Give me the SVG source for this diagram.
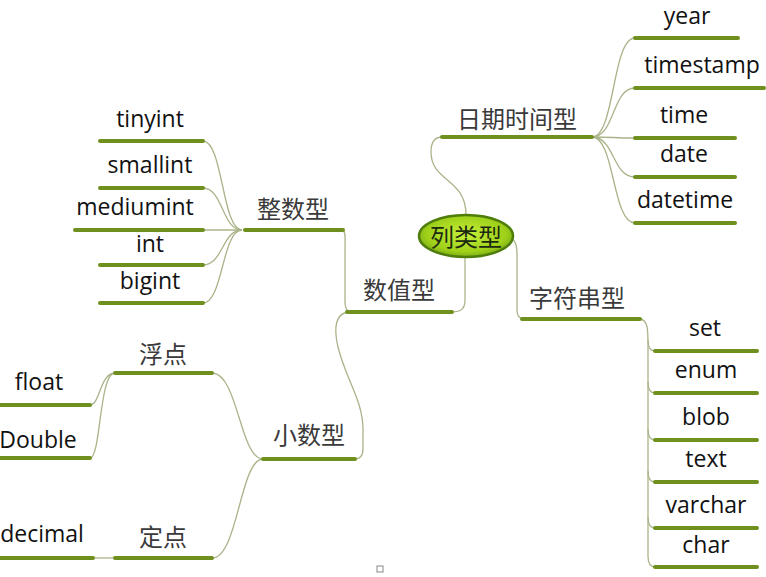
<svg xmlns="http://www.w3.org/2000/svg" width="766" height="577" viewBox="0 0 766 577">
<style>
.bar{stroke:#6f8f1f;stroke-width:4;stroke-linecap:round;fill:none}
.ln{stroke:#aab48a;stroke-width:1.3;fill:none}
.en{font-family:"Open Sans","DejaVu Sans",sans-serif;font-size:23px;fill:#111;text-anchor:middle}
.zh{font-family:"Noto Sans CJK SC",sans-serif;font-size:24px;fill:#3a3a3a;text-anchor:middle}
</style>
<defs>
<radialGradient id="rg" cx="50%" cy="45%" r="60%">
<stop offset="0" stop-color="#c6ef3a"/>
<stop offset="0.7" stop-color="#9fd11a"/>
<stop offset="1" stop-color="#6f9f14"/>
</radialGradient>
</defs>
<rect width="766" height="577" fill="#ffffff"/>
<g id="connectors">
<path class="ln" d="M466,215 C466,178 431,182 431,152 C431,141 435,137 442,137"/>
<path class="ln" d="M592,137 C615,137 612,38 635,38"/>
<path class="ln" d="M592,137 C615,137 612,88 635,88"/>
<path class="ln" d="M592,137 C615,137 612,138 635,138"/>
<path class="ln" d="M592,137 C615,137 612,177 635,177"/>
<path class="ln" d="M592,137 C615,137 612,223 635,223"/>
<path class="ln" d="M465,257 L465,300 C465,309 461,312 452,312"/>
<path class="ln" d="M343,230 C346,232 345,240 345,250 L345,300 C345,309 347,312 352,312"/>
<path class="ln" d="M347,312 C335,315 334,330 338,347 C346,380 363,400 363,430 L363,448 C363,456 360,459 355,459"/>
<path class="ln" d="M242,230 C222,230 223,141 203,141"/>
<path class="ln" d="M242,230 C222,230 223,188 203,188"/>
<path class="ln" d="M242,230 L203,230"/>
<path class="ln" d="M242,230 C222,230 223,265 203,265"/>
<path class="ln" d="M242,230 C222,230 223,303 203,303"/>
<path class="ln" d="M263,459 C240,459 238,373 212,373"/>
<path class="ln" d="M263,459 C240,459 238,558 212,558"/>
<path class="ln" d="M90,405 C100,405 100,373 115,373"/>
<path class="ln" d="M90,458 C101,458 99,373 115,373"/>
<path class="ln" d="M93,558 L115,558"/>
<path class="ln" d="M510,238 C516,240 517,246 517,256 L517,310 C517,316 519,319 524,319"/>
<path class="ln" d="M640,319 C648,320 648,330 648,345 L648,556 C648,563 650,567 655,567"/>
<path class="ln" d="M648,340 C648,347 650,351 655,351"/>
<path class="ln" d="M648,382 C648,389 650,393 655,393"/>
<path class="ln" d="M648,429 C648,436 650,440 655,440"/>
<path class="ln" d="M648,471 C648,478 650,482 655,482"/>
<path class="ln" d="M648,517 C648,524 650,528 655,528"/>
</g>
<g id="root">
<ellipse cx="466" cy="236" rx="47" ry="21" fill="url(#rg)" stroke="#4f7d0c" stroke-width="2.5"/>
<text x="466" y="246" font-family="Noto Sans CJK SC,sans-serif" font-size="24" fill="#1c2a10" text-anchor="middle">列类型</text>
</g>
<g id="n-datetime-type">
<line class="bar" x1="442" y1="137" x2="592" y2="137"/>
<text class="zh" x="517" y="128">日期时间型</text>
</g>
<g id="n-year"><line class="bar" x1="635" y1="38" x2="738" y2="38"/><text class="en" x="687" y="24">year</text></g>
<g id="n-timestamp"><line class="bar" x1="635" y1="88" x2="764" y2="88"/><text class="en" x="702" y="73">timestamp</text></g>
<g id="n-time"><line class="bar" x1="635" y1="138" x2="735" y2="138"/><text class="en" x="684" y="123">time</text></g>
<g id="n-date"><line class="bar" x1="635" y1="177" x2="735" y2="177"/><text class="en" x="684" y="162">date</text></g>
<g id="n-datetime"><line class="bar" x1="635" y1="223" x2="735" y2="223"/><text class="en" x="685" y="208">datetime</text></g>
<g id="n-numeric">
<line class="bar" x1="347" y1="312" x2="452" y2="312"/>
<text class="zh" x="399" y="299">数值型</text>
</g>
<g id="n-integer">
<line class="bar" x1="245" y1="230" x2="343" y2="230"/>
<text class="zh" x="293" y="218">整数型</text>
</g>
<g id="n-tinyint"><line class="bar" x1="100" y1="141" x2="203" y2="141"/><text class="en" x="150" y="127">tinyint</text></g>
<g id="n-smallint"><line class="bar" x1="100" y1="188" x2="203" y2="188"/><text class="en" x="150" y="173">smallint</text></g>
<g id="n-mediumint"><line class="bar" x1="75" y1="230" x2="203" y2="230"/><text class="en" x="135" y="215">mediumint</text></g>
<g id="n-int"><line class="bar" x1="100" y1="265" x2="203" y2="265"/><text class="en" x="150" y="252">int</text></g>
<g id="n-bigint"><line class="bar" x1="100" y1="303" x2="203" y2="303"/><text class="en" x="150" y="289">bigint</text></g>
<g id="n-decimal-type">
<line class="bar" x1="263" y1="459" x2="355" y2="459"/>
<text class="zh" x="309" y="444">小数型</text>
</g>
<g id="n-float-point"><line class="bar" x1="115" y1="373" x2="212" y2="373"/><text class="zh" x="163" y="363">浮点</text></g>
<g id="n-float"><line class="bar" x1="0" y1="405" x2="90" y2="405"/><text class="en" x="39" y="390">float</text></g>
<g id="n-double"><line class="bar" x1="0" y1="458" x2="90" y2="458"/><text class="en" x="38" y="448">Double</text></g>
<g id="n-fixed-point"><line class="bar" x1="115" y1="558" x2="212" y2="558"/><text class="zh" x="163" y="546">定点</text></g>
<g id="n-decimal"><line class="bar" x1="0" y1="558" x2="93" y2="558"/><text class="en" x="42" y="542">decimal</text></g>
<g id="n-string">
<line class="bar" x1="522" y1="319" x2="640" y2="319"/>
<text class="zh" x="577" y="307">字符串型</text>
</g>
<g id="n-set"><line class="bar" x1="655" y1="351" x2="757" y2="351"/><text class="en" x="705" y="336">set</text></g>
<g id="n-enum"><line class="bar" x1="655" y1="393" x2="757" y2="393"/><text class="en" x="706" y="378">enum</text></g>
<g id="n-blob"><line class="bar" x1="655" y1="440" x2="757" y2="440"/><text class="en" x="706" y="425">blob</text></g>
<g id="n-text"><line class="bar" x1="655" y1="482" x2="757" y2="482"/><text class="en" x="706" y="467">text</text></g>
<g id="n-varchar"><line class="bar" x1="655" y1="528" x2="757" y2="528"/><text class="en" x="706" y="513">varchar</text></g>
<g id="n-char"><line class="bar" x1="655" y1="567" x2="757" y2="567"/><text class="en" x="706" y="553">char</text></g>
<rect x="377" y="566" width="6" height="6" fill="none" stroke="#888" stroke-width="1"/>
</svg>
